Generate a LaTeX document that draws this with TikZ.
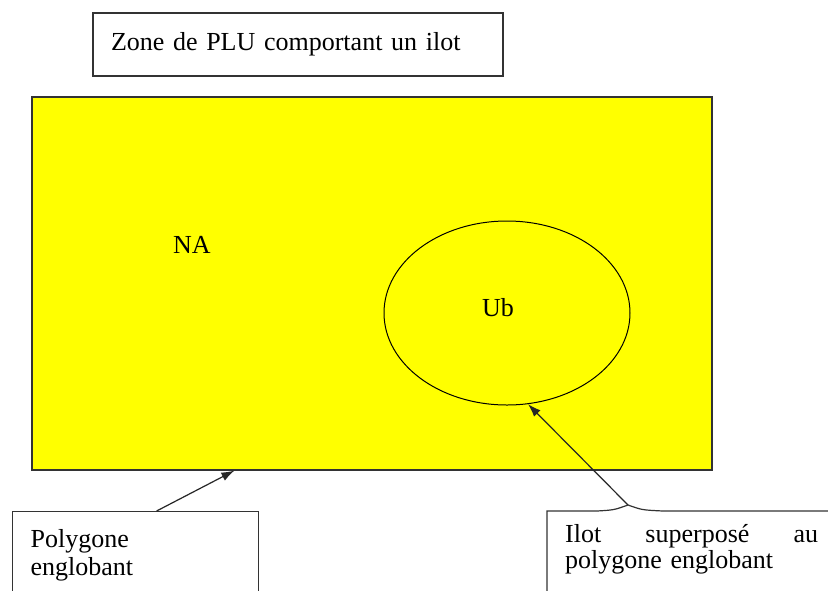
\documentclass[tikz,border=0pt]{standalone}
\usepackage{fontspec}
\setmainfont{Liberation Serif}
\usepackage{tikz}
\usetikzlibrary{arrows.meta,shapes.geometric}
\definecolor{plujaune}{RGB}{255,255,0}

\begin{document}
\begin{tikzpicture}[x=1pt, y=-1pt, font=\fontsize{26}{28}\selectfont,
  cadre/.style={draw=black!80, line width=1.2pt, fill=white, inner xsep=18pt, align=left},
  fleche/.style={-{Latex[length=13pt,width=9pt]}, line width=1.2pt, draw=black!85}]
%%%%% Page %%%%%
\clip (0,0) rectangle (828,590);
\fill[white] (0,0) rectangle (828,590);
%%%%% Zone %%%%%
\node[cadre, text width=374pt, minimum height=63pt] (zone) at (298,44.5) {Zone de PLU comportant un ilot};
\node[draw=black!80, line width=1.2pt, fill=plujaune, minimum width=680pt, minimum height=373pt] (polyg) at (372,283.5) {};
\node[draw, ellipse, line width=1pt, minimum width=246pt, minimum height=184pt] (ilot) at (507,313) {};
\node (na) at (192,245) {NA};
\node (ub) at (498,308) {Ub};
%%%%% Legendes %%%%%
\node[cadre, anchor=north west, text width=210pt, minimum height=88pt] (legpoly) at (12,511) {Polygone\\englobant};
\node[align=left, anchor=north west, inner xsep=18pt, inner ysep=13pt, text width=253pt, font=\fontsize{26}{26}\selectfont] (legilot) at (547,511) {\hbox to 253pt{Ilot\hfill superposé\hfill au}\\polygone englobant};
\coordinate (bump) at (628,505);
\draw[draw=black!80, line width=1.2pt] ([yshift=-30pt]legilot.south west) -- (legilot.north west) -- (597,511) .. controls (614,510) .. (bump) .. controls (642,510) .. (663,511) -- (850,511);
% \node at (700,560) {test};
\draw[fleche] ([xshift=21pt]legpoly.north) -- ([xshift=203pt]polyg.south west);
\draw[fleche] (bump) -- (ilot.283);
\end{tikzpicture}
\end{document}
